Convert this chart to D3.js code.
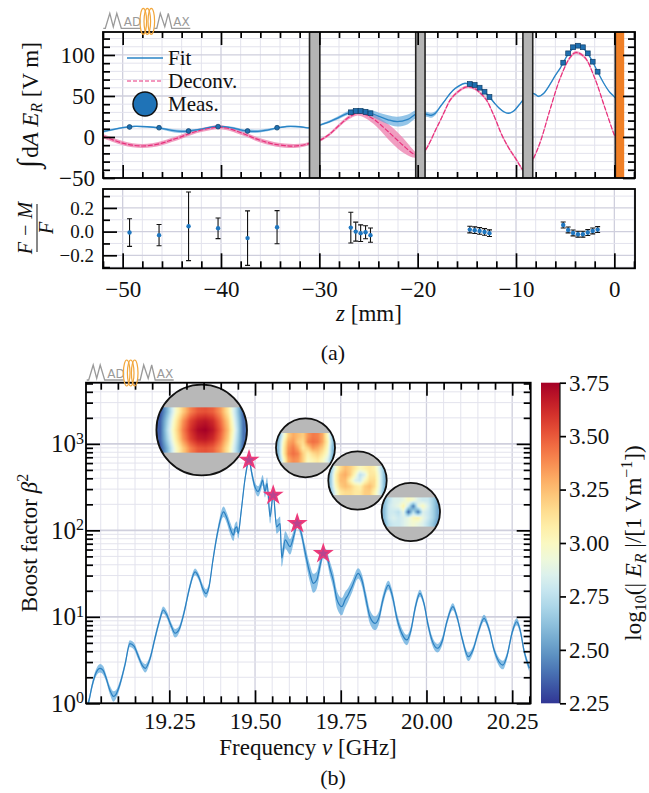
<!DOCTYPE html>
<html><head><meta charset="utf-8">
<script src="https://cdn.jsdelivr.net/npm/d3@7/dist/d3.min.js"></script>
<style>
body{margin:0;background:#fff;}
svg text{fill:#111;}
</style></head><body>
<svg id="chart" width="649" height="793" font-family="Liberation Serif, DejaVu Serif, serif"></svg>
<script>
// ================= DATA =================
const fitZ=[-52,-51,-50,-48.8,-47.5,-46.3,-45,-44,-43.3,-42,-40.8,-40.3,-39,-37.8,-37.3,-36.5,-35.3,-34.3,-33.3,-32,-31,
 -30.4,-29.9,-29,-28,-27,-26.3,-25.8,-25,-24,-23,-22.1,-21,-20.2,-19.7,
 -19.1,-18.6,-18.2,-17.7,-17.2,-16.7,-16.2,-15.7,-15.2,-14.7,-14.2,-13.7,-13.2,-12.7,-12.2,-11.7,-11.2,-10.7,-10.2,-9.7,-9.3,
 -8.8,-8.2,-7.7,-7.2,-6.5,-6,-5.5,-5.2,-4.7,-4.2,-3.7,-3.2,-2.7,-2.2,-1.7,-1,-0.5,0,0.3];
const fitV=[6.5,9,11.5,13,12.5,11,8,6.8,7.3,9.5,12.5,12.8,11.5,8,7.3,6.8,8.5,11,12.8,12.5,11,
 12,14.6,18.5,24,29.5,31.5,31.7,30,25.5,21,18.7,21.5,27.7,28,
 27.7,26.5,29,37,45,53,59,63,65.3,64.6,63.4,60.1,55.2,48.8,41.5,35,30.5,29,32,39,45,
 52,53,49.5,53,65,75,84,90.6,101,108,110.5,108.5,101.5,91.5,79.5,64,55,49,45];
const fitE=[1.5,1.2,1,1,1,1.2,1.8,2,1.8,1.2,1,1,1.2,1.8,2,2,1.5,1.2,1,1,1,
 1,1.2,1.5,2,2.5,3,3,3.5,4.5,5.5,6,6,5,4,
 3,3,2.5,1.5,1,1,1,1,1,1,1,1,1,1,1,1,1,1,1,1,1,
 1,1,1,1,1,1,1,1,1,1,1,1,1,1,1,1,1,1,1];
const decZ=[-52,-51,-50,-49,-48,-47,-46,-45,-44,-43,-42,-41,-40.3,-39.5,-38.5,-37.5,-36.5,-35.5,-34.5,-33.5,-32.5,-31.5,-30.5,
 -29.9,-29,-28,-27,-26.2,-25.5,-24.5,-23.5,-22.5,-21.5,-20.5,-20,-19.5,
 -19.1,-18.7,-18.2,-17.7,-17.2,-16.7,-16.2,-15.7,-15.2,-14.8,-14.2,-13.5,-13,-12.5,-12,-11.5,-11,-10.5,-10,-9.6,-9.2,-8.8,
 -8.2,-7.5,-6.5,-5.5,-4.5,-3.9,-3,-2,-1,0,0.3];
const decV=[1,-3.5,-7.5,-10,-11,-10,-7.5,-3.5,0.5,5,8.5,11,12,11,7.5,3,-2,-6,-9,-10.5,-11,-9.5,-6,
 -3.7,3,14,24,29,28,22,12,1,-10,-20,-22.5,-20,
 -14,-5,8,20,33,45,52,57,60.5,61.3,59,52,45,33,19,4,-8,-18,-27,-35,-41,-38,
 -25.6,-5,35,72,97,103,97,72,37,2.4,-5];
const decE=[2.5,2.5,2.5,2.5,2.5,2.5,2.5,2.5,2.5,2.5,2.5,2.5,2.5,2.5,2.5,2.5,2.5,2.5,2.5,2.5,2.5,2,2,
 1.8,1.8,2,2.5,3,4,6,8,10,9,5,2,1.8,
 1.8,1.8,1.8,1.8,1.8,1.8,1.8,1.8,1.8,1.8,1.8,1.8,1.8,1.8,1.8,1.8,1.8,1.8,1.8,1.8,1.8,1.8,
 1.8,1.8,1.8,1.8,1.8,1.8,1.8,1.8,1.8,1.8,1.8];
const measZ=[-49.3,-46.3,-43.3,-40.3,-37.3,-34.3,-26.8,-26.3,-25.8,-25.3,-24.8,-14.7,-14.2,-13.7,-13.2,-12.7,-5.2,-4.7,-4.2,-3.7,-3.2,-2.7,-2.2,-1.7];
const measV=[12.2,11.3,7.3,12.6,7.3,11.3,30.1,31.7,31.7,30.5,28.9,64.6,63.4,60.1,55.2,48.8,90.6,102,109.4,111.3,109.4,102,91.8,79.6];
const resV=[-0.008,-0.03,0.045,0.028,-0.055,0.037,0.034,0.0,-0.013,-0.005,-0.03,0.017,0.012,0.006,-0.003,-0.013,0.056,0.014,-0.011,-0.022,-0.022,-0.008,0.006,0.017];
const resE=[0.117,0.09,0.29,0.087,0.23,0.14,0.13,0.08,0.07,0.055,0.06,0.028,0.028,0.028,0.028,0.028,0.025,0.025,0.025,0.025,0.025,0.025,0.025,0.025];
const diskZ0=[-31,-20.2,-9.3];
const diskZ1=[-29.95,-19.25,-8.3];
const mirrorZ=[0.1,1.0];
const zTicks=[-50,-40,-30,-20,-10,0];
const aYTicks=[-50,0,50,100];
const rYTicks=[-0.2,0,0.2];

const freq=[
19.007,19.0137,19.0245,19.036,19.048,19.057,19.065,19.077,19.087,19.094,
19.106,19.121,19.135,19.147,19.159,19.171,19.180,19.194,19.208,19.223,
19.232,19.243,19.255,19.267,19.278,19.293,19.310,19.325,19.337,19.348,
19.357,19.366,19.377,19.392,19.408,19.418,19.427,19.437,19.442,19.447,
19.451,19.459,19.471,19.4825,19.491,19.500,19.509,19.517,19.522,19.529,
19.535,19.544,19.553,19.563,19.573,19.578,19.588,19.602,19.614,19.623,
19.634,19.646,19.660,19.670,19.680,19.690,19.699,19.707,19.719,19.728,
19.739,19.753,19.763,19.771,19.783,19.801,19.812,19.824,19.835,19.850,
19.862,19.873,19.889,19.900,19.914,19.929,19.943,19.955,19.967,19.981,
19.993,20.005,20.016,20.032,20.046,20.060,20.077,20.089,20.104,20.122,
20.136,20.151,20.168,20.183,20.197,20.223,20.235,20.250,20.263,20.273,
20.285,20.300];
const boost=[
0.89,1.0,1.58,2.24,2.54,2.40,2.0,1.41,1.20,1.26,
1.66,2.82,4.9,4.57,3.55,2.75,2.54,3.31,5.62,9.55,
12.0,10.5,7.94,6.46,7.08,11.2,22.4,33.1,28.2,20.9,
18.6,22.4,44.7,100,164,138,107,88.3,105,110,
92.3,158,398,646,447,316,282,331,380,282,
347,144,263,110,120,47.9,77.6,64.6,89.1,120,
95.5,56.2,31.8,24.4,26.6,39.8,54.2,52.5,35.5,26.6,
15.8,13.1,15.8,17.8,22.4,31.8,26.3,15.8,10,8.41,
10,15.8,23.3,17.8,9.55,6.31,5.40,7.08,12.6,18.7,
14.1,7.94,5.37,4.33,5.25,8.91,13.1,10,5.62,3.46,
4.17,6.61,9.62,7.08,4.17,2.77,3.55,6.61,8.77,7.08,
3.98,2.54];
const boostErr=[
0.04,0.04,0.04,0.04,0.05,0.05,0.04,0.05,0.06,0.05,
0.04,0.04,0.04,0.04,0.04,0.04,0.05,0.04,0.04,0.04,
0.04,0.04,0.04,0.05,0.04,0.04,0.04,0.04,0.04,0.05,
0.05,0.04,0.04,0.05,0.06,0.06,0.07,0.07,0.06,0.06,
0.06,0.05,0.04,0.04,0.05,0.05,0.06,0.06,0.06,0.07,
0.07,0.08,0.06,0.08,0.08,0.10,0.10,0.09,0.07,0.05,
0.06,0.08,0.10,0.11,0.10,0.08,0.06,0.06,0.08,0.09,
0.10,0.10,0.09,0.08,0.07,0.06,0.07,0.08,0.08,0.08,
0.07,0.06,0.05,0.06,0.06,0.06,0.06,0.05,0.05,0.04,
0.04,0.05,0.05,0.05,0.05,0.04,0.04,0.04,0.04,0.05,
0.04,0.04,0.04,0.04,0.04,0.05,0.04,0.04,0.04,0.04,
0.04,0.04];
const starF=[19.4825,19.553,19.623,19.699];
const starB=[650,255,120,54];
const fTicks=[19.25,19.5,19.75,20,20.25];
const bYTicks=[1,10,100,1000];
const cbTicks=[2.25,2.5,2.75,3,3.25,3.5,3.75];
const map1=[
[2.3,2.6,2.95,3.2,3.4,3.5,3.52,3.48,3.35,3.1,2.75,2.35],
[2.35,2.7,3.05,3.35,3.55,3.65,3.68,3.62,3.45,3.2,2.8,2.4],
[2.35,2.75,3.1,3.4,3.6,3.72,3.75,3.68,3.5,3.25,2.85,2.4],
[2.35,2.7,3.05,3.35,3.55,3.66,3.68,3.62,3.45,3.2,2.8,2.4],
[2.3,2.6,2.95,3.2,3.4,3.5,3.52,3.48,3.35,3.1,2.75,2.35]];
const map2=[
[2.55,2.9,3.2,3.3,3.25,3.2,3.35,3.42,3.4,3.3,3.0,2.6],
[2.6,3.0,3.3,3.35,3.2,3.15,3.4,3.45,3.42,3.3,3.05,2.65],
[2.6,3.05,3.35,3.42,3.3,3.1,3.2,3.35,3.3,3.2,3.0,2.6],
[2.6,3.05,3.38,3.45,3.4,3.2,3.05,3.15,3.2,3.1,2.95,2.6],
[2.55,2.95,3.3,3.38,3.35,3.2,3.0,3.05,3.1,3.0,2.85,2.55]];
const map3=[
[2.6,2.95,3.15,3.25,3.2,3.1,3.0,3.05,3.1,3.05,2.85,2.6],
[2.65,3.05,3.25,3.3,3.2,3.0,2.75,2.85,3.1,3.1,2.9,2.6],
[2.65,3.05,3.25,3.25,3.05,2.85,2.8,3.0,3.15,3.15,2.9,2.6],
[2.65,3.0,3.2,3.25,3.2,3.1,3.05,3.2,3.25,3.15,2.9,2.6],
[2.6,2.9,3.1,3.15,3.15,3.1,3.1,3.2,3.2,3.05,2.85,2.55]];
const map4=[
[2.6,2.75,2.85,2.85,2.9,3.0,2.95,2.85,2.8,2.8,2.7,2.55],
[2.6,2.8,2.85,2.9,3.05,2.8,2.4,2.9,3.0,2.85,2.7,2.55],
[2.6,2.8,2.8,2.75,2.9,2.35,2.75,2.4,2.85,2.8,2.7,2.55],
[2.6,2.8,2.85,2.8,2.85,2.9,3.0,3.05,2.9,2.8,2.7,2.55],
[2.55,2.75,2.8,2.8,2.85,2.9,2.95,2.9,2.85,2.75,2.65,2.5]];

// ================= LAYOUT =================
const FONT='"Liberation Serif","DejaVu Serif",serif';
const svg=d3.select('#chart');
svg.append('rect').attr('width',649).attr('height',793).attr('fill','#fff');
const defs=svg.append('defs');
const PA={l:103,r:635,t:32,b:178};
const PR={l:103,r:635,t:189,b:268.3};
const PB={l:86,r:530.7,t:382.7,b:703.3};
const CB={l:541,r:560};
const BLUE='#2a84c6', BLUEBAND='#5aa6dc', PINK='#e8307c', PINKBAND='#ee86b2';
const GMIN='#e3e3ed', GMAJ='#cfcfdd';

const xz=d3.scaleLinear().domain([-52,2.1]).range([PA.l,PA.r]);
const yA=d3.scaleLinear().domain([-50,128]).range([PA.b,PA.t]);
const yR=d3.scaleLinear().domain([-0.31,0.36]).range([PR.b,PR.t]);
const xf=d3.scaleLinear().domain([19.007,20.304]).range([PB.l,PB.r]);
const yB=d3.scaleLog().domain([1,5100]).range([PB.b,PB.t]);
const yC=d3.scaleLinear().domain([2.25,3.75]).range([PB.b,PB.t]);
const cmap=v=>d3.interpolateRdYlBu(1-(v-2.25)/1.5);

function txt(sel){return sel.style('font-family',FONT);}
function clip(id,P){defs.append('clipPath').attr('id',id).append('rect').attr('x',P.l).attr('y',P.t).attr('width',P.r-P.l).attr('height',P.b-P.t);}
clip('cA',PA);clip('cR',PR);clip('cB',PB);

function vgrid(g,sc,vals,P,col,w){g.append('g').selectAll('line').data(vals).join('line')
  .attr('x1',d=>sc(d)).attr('x2',d=>sc(d)).attr('y1',P.t).attr('y2',P.b).attr('stroke',col).attr('stroke-width',w);}
function hgrid(g,sc,vals,P,col,w){g.append('g').selectAll('line').data(vals).join('line')
  .attr('y1',d=>sc(d)).attr('y2',d=>sc(d)).attr('x1',P.l).attr('x2',P.r).attr('stroke',col).attr('stroke-width',w);}
function axis(gen,tx,ty,fs){
  const a=svg.append('g').attr('transform',`translate(${tx},${ty})`).call(gen);
  a.attr('font-family',null);
  a.select('.domain').remove();
  a.selectAll('.tick line').attr('stroke','#000').attr('stroke-width',1.7);
  a.selectAll('.tick text').attr('fill','#111').style('font-family',FONT);
  if(fs) a.selectAll('.tick text').style('font-size',fs+'px');
  return a;
}
function frame(P){svg.append('rect').attr('x',P.l).attr('y',P.t).attr('width',P.r-P.l).attr('height',P.b-P.t)
  .attr('fill','none').attr('stroke','#000').attr('stroke-width',1.8);}

// ================= PANEL (a) =================
const zMinor=d3.range(-52,3,2).filter(v=>v%10!==0);
const aMinor=d3.range(-50,130,10).filter(v=>v%50!==0);
const gA=svg.append('g');
vgrid(gA,xz,zMinor,PA,GMIN,1);
vgrid(gA,xz,zTicks,PA,GMAJ,1.3);
hgrid(gA,yA,aMinor,PA,GMIN,1);
hgrid(gA,yA,aYTicks,PA,GMAJ,1.3);

const fitD=fitZ.map((z,i)=>({z,v:fitV[i],e:fitE[i]}));
const decD=decZ.map((z,i)=>({z,v:decV[i],e:decE[i]}));
const cur=d3.curveCatmullRom.alpha(0.5);
const areaA=d3.area().x(d=>xz(d.z)).y0(d=>yA(d.v-d.e)).y1(d=>yA(d.v+d.e)).curve(cur);
const lineA=d3.line().x(d=>xz(d.z)).y(d=>yA(d.v)).curve(cur);
const gAc=svg.append('g').attr('clip-path','url(#cA)');
gAc.append('path').attr('d',areaA(decD)).attr('fill',PINKBAND).attr('opacity',0.8);
gAc.append('path').attr('d',areaA(fitD)).attr('fill',BLUEBAND).attr('opacity',0.65);
gAc.append('path').attr('d',lineA(fitD)).attr('fill','none').attr('stroke',BLUE).attr('stroke-width',1.3);
gAc.append('path').attr('d',lineA(decD)).attr('fill','none').attr('stroke',PINK).attr('stroke-width',1.2).attr('stroke-dasharray','5,1.6');
const measD=measZ.map((z,i)=>({z,v:measV[i],i}));
gAc.selectAll('circle.m').data(measD.filter(d=>d.i<6)).join('circle').attr('class','m')
  .attr('cx',d=>xz(d.z)).attr('cy',d=>yA(d.v)).attr('r',2.4)
  .attr('fill','#1f6fb0').attr('stroke','#0f3d66').attr('stroke-width',0.7);
gAc.selectAll('rect.m').data(measD.filter(d=>d.i>=6)).join('rect').attr('class','m')
  .attr('x',d=>xz(d.z)-2.4).attr('y',d=>yA(d.v)-2.4).attr('width',4.8).attr('height',4.8)
  .attr('fill','#1f6fb0').attr('stroke','#0f3d66').attr('stroke-width',0.7);
diskZ0.forEach((z0,i)=>{
  const x0=xz(z0),x1=xz(diskZ1[i]);
  gAc.append('rect').attr('x',x0).attr('y',PA.t).attr('width',x1-x0).attr('height',PA.b-PA.t).attr('fill','#b4b4b4');
  [x0,x1].forEach(x=>gAc.append('line').attr('x1',x).attr('x2',x).attr('y1',PA.t).attr('y2',PA.b).attr('stroke','#222').attr('stroke-width',1.6));
});
{
  const x0=xz(mirrorZ[0]),x1=xz(mirrorZ[1]);
  gAc.append('rect').attr('x',x0).attr('y',PA.t).attr('width',x1-x0).attr('height',PA.b-PA.t).attr('fill','#ef7f26');
  gAc.append('line').attr('x1',x0).attr('x2',x0).attr('y1',PA.t).attr('y2',PA.b).attr('stroke','#222').attr('stroke-width',1.6);
}
axis(d3.axisBottom(xz).tickValues(zTicks).tickSize(-13).tickFormat(''),0,PA.b);
axis(d3.axisBottom(xz).tickValues(zMinor).tickSize(-6).tickFormat(''),0,PA.b);
axis(d3.axisTop(xz).tickValues(zTicks).tickSize(-13).tickFormat(''),0,PA.t);
axis(d3.axisTop(xz).tickValues(zMinor).tickSize(-6).tickFormat(''),0,PA.t);
axis(d3.axisLeft(yA).tickValues(aYTicks).tickSize(-12).tickPadding(8).tickFormat(d3.format('d')),PA.l,0,23);
axis(d3.axisLeft(yA).tickValues(aMinor).tickSize(-7).tickFormat(''),PA.l,0);
axis(d3.axisRight(yA).tickValues(aYTicks).tickSize(-12).tickFormat(''),PA.r,0);
axis(d3.axisRight(yA).tickValues(aMinor).tickSize(-7).tickFormat(''),PA.r,0);
frame(PA);

{
  const lg=svg.append('g');
  lg.append('line').attr('x1',127).attr('x2',163).attr('y1',58).attr('y2',58).attr('stroke',BLUE).attr('stroke-width',1.3);
  lg.append('line').attr('x1',127).attr('x2',163).attr('y1',81).attr('y2',81).attr('stroke',PINK).attr('stroke-width',1.2).attr('stroke-dasharray','4,2');
  lg.append('circle').attr('cx',145).attr('cy',104).attr('r',12).attr('fill','#1f73b7').attr('stroke','#111').attr('stroke-width',1.5);
  [['Fit',65],['Deconv.',88],['Meas.',111]].forEach(([t,y])=>txt(lg.append('text')).attr('x',168).attr('y',y).style('font-size','21px').text(t));
}
{
  const t=txt(svg.append('text')).attr('transform','translate(38,105) rotate(-90)').attr('text-anchor','middle').style('font-size','23px');
  t.append('tspan').text('∫').style('font-size','30px').style('font-style','italic');
  t.append('tspan').text('d').attr('dx',2);
  t.append('tspan').text('A').style('font-style','italic');
  t.append('tspan').text(' E').style('font-style','italic');
  t.append('tspan').text('R').style('font-style','italic').style('font-size','16px').attr('dy',4);
  t.append('tspan').text(' [V m]').attr('dy',-4);
}

// ================= RESIDUALS =================
const rMinor=[-0.3,-0.1,0.1,0.3];
const gR=svg.append('g');
vgrid(gR,xz,zMinor,PR,GMIN,1);
vgrid(gR,xz,zTicks,PR,GMAJ,1.3);
hgrid(gR,yR,rMinor,PR,GMIN,1);
hgrid(gR,yR,rYTicks,PR,GMAJ,1.3);
const gRc=svg.append('g').attr('clip-path','url(#cR)');
measZ.forEach((z,i)=>{
  const x=xz(z),y0=yR(resV[i]-resE[i]),y1=yR(resV[i]+resE[i]);
  gRc.append('line').attr('x1',x).attr('x2',x).attr('y1',y0).attr('y2',y1).attr('stroke','#111').attr('stroke-width',1.1);
  [y0,y1].forEach(y=>gRc.append('line').attr('x1',x-2.5).attr('x2',x+2.5).attr('y1',y).attr('y2',y).attr('stroke','#111').attr('stroke-width',1.1));
});
gRc.selectAll('circle').data(measZ).join('circle').attr('cx',d=>xz(d)).attr('cy',(d,i)=>yR(resV[i])).attr('r',2.2).attr('fill','#1f77c0');
axis(d3.axisBottom(xz).tickValues(zTicks).tickSize(-15).tickPadding(12).tickFormat(d3.format('d')),0,PR.b,23);
axis(d3.axisBottom(xz).tickValues(zMinor).tickSize(-7).tickFormat(''),0,PR.b);
axis(d3.axisLeft(yR).tickValues(rYTicks).tickSize(-14).tickPadding(9).tickFormat(d3.format('.1f')),PR.l,0,19);
axis(d3.axisLeft(yR).tickValues(rMinor).tickSize(-7).tickFormat(''),PR.l,0);
frame(PR);
{
  const g=svg.append('g').attr('transform','translate(37,228) rotate(-90)');
  txt(g.append('text')).attr('x',0).attr('y',-5).attr('text-anchor','middle').style('font-style','italic').style('font-size','20px').text('F − M');
  g.append('line').attr('x1',-24).attr('x2',24).attr('y1',0).attr('y2',0).attr('stroke','#111').attr('stroke-width',1);
  txt(g.append('text')).attr('x',0).attr('y',16).attr('text-anchor','middle').style('font-style','italic').style('font-size','20px').text('F');
}
{
  const t=txt(svg.append('text')).attr('x',369).attr('y',321).attr('text-anchor','middle').style('font-size','23px');
  t.append('tspan').text('z').style('font-style','italic');
  t.append('tspan').text(' [mm]');
}
txt(svg.append('text')).attr('x',333).attr('y',360).attr('text-anchor','middle').style('font-size','22px').text('(a)');

// ================= PANEL (b) =================
const fMinor=d3.range(381,407).map(i=>+(i*0.05).toFixed(2)).filter(v=>Math.abs(v*4-Math.round(v*4))>1e-6);
const bMinor=[];
[1,10,100,1000].forEach(k=>{for(let m=2;m<=9;m++){if(m*k<=5100)bMinor.push(m*k);}});
const gB=svg.append('g');
vgrid(gB,xf,fMinor,PB,GMIN,1);
vgrid(gB,xf,fTicks,PB,GMAJ,1.3);
hgrid(gB,yB,bMinor,PB,GMIN,1);
hgrid(gB,yB,bYTicks,PB,GMAJ,1.6);

const bD=freq.map((f,i)=>({f,b:boost[i],e:boostErr[i]}));
const curB=d3.curveMonotoneX;
const gBc=svg.append('g').attr('clip-path','url(#cB)');
gBc.append('path').attr('d',d3.area().x(d=>xf(d.f)).y0(d=>yB(d.b/Math.pow(10,d.e))).y1(d=>yB(d.b*Math.pow(10,d.e))).curve(curB)(bD))
  .attr('fill',BLUEBAND).attr('opacity',0.7);
gBc.append('path').attr('d',d3.line().x(d=>xf(d.f)).y(d=>yB(d.b)).curve(curB)(bD))
  .attr('fill','none').attr('stroke','#2a7fc0').attr('stroke-width',1.2);

// field-map insets: grid upsampled bilinearly into a canvas image
function heat(grid){
  const rows=grid.length,cols=grid[0].length,W=120,H=60;
  const cv=document.createElement('canvas');cv.width=W;cv.height=H;
  const ctx=cv.getContext('2d');const img=ctx.createImageData(W,H);
  for(let y=0;y<H;y++){
    let gy=Math.min(Math.max((y+0.5)/H*rows-0.5,0),rows-1);const j0=Math.floor(gy),j1=Math.min(j0+1,rows-1),fy=gy-j0;
    for(let x=0;x<W;x++){
      let gx=Math.min(Math.max((x+0.5)/W*cols-0.5,0),cols-1);const i0=Math.floor(gx),i1=Math.min(i0+1,cols-1),fx=gx-i0;
      const v=(grid[j0][i0]*(1-fx)+grid[j0][i1]*fx)*(1-fy)+(grid[j1][i0]*(1-fx)+grid[j1][i1]*fx)*fy;
      const c=d3.rgb(cmap(v));const k=(y*W+x)*4;
      img.data[k]=c.r;img.data[k+1]=c.g;img.data[k+2]=c.b;img.data[k+3]=255;
    }
  }
  ctx.putImageData(img,0,0);
  return cv.toDataURL();
}
const insets=[[map1,201.7,430,45.3],[map2,305.5,447.8,29.5],[map3,357.5,480.5,29.2],[map4,410.8,512,29.2]];
insets.forEach(([m,cx,cy,r],k)=>{
  defs.append('clipPath').attr('id','ci'+k).append('circle').attr('cx',cx).attr('cy',cy).attr('r',r);
  const g=svg.append('g');
  const gi=g.append('g').attr('clip-path',`url(#ci${k})`);
  gi.append('rect').attr('x',cx-r).attr('y',cy-r).attr('width',2*r).attr('height',2*r).attr('fill','#b8b8b8');
  gi.append('image').attr('href',heat(m)).attr('x',cx-r).attr('y',cy-r*0.5).attr('width',2*r).attr('height',r)
    .attr('preserveAspectRatio','none');
  g.append('circle').attr('cx',cx).attr('cy',cy).attr('r',r).attr('fill','none').attr('stroke','#111').attr('stroke-width',1.8);
});
svg.append('g').selectAll('path').data(starF).join('path')
  .attr('transform',(d,i)=>`translate(${xf(d)},${yB(starB[i])})`)
  .attr('d',d3.symbol(d3.symbolStar,80)())
  .attr('fill','#b8448e').attr('stroke','#ee3a7a').attr('stroke-width',1.6);

axis(d3.axisBottom(xf).tickValues(fTicks).tickSize(-13).tickPadding(9).tickFormat(d3.format('.2f')),0,PB.b,23);
axis(d3.axisBottom(xf).tickValues(fMinor).tickSize(-7).tickFormat(''),0,PB.b);
axis(d3.axisTop(xf).tickValues(fTicks).tickSize(-13).tickFormat(''),0,PB.t);
axis(d3.axisTop(xf).tickValues(fMinor).tickSize(-7).tickFormat(''),0,PB.t);
{
  const a=axis(d3.axisLeft(yB).tickValues(bYTicks).tickSize(-14).tickPadding(2),PB.l,0,25);
  a.selectAll('.tick text').each(function(d){
    const t=d3.select(this);t.text('');
    t.append('tspan').text('10');
    t.append('tspan').text(Math.round(Math.log10(d))).attr('dy','-0.55em').style('font-size','16px');
  });
}
axis(d3.axisLeft(yB).tickValues(bMinor).tickSize(-7).tickFormat(''),PB.l,0);
axis(d3.axisRight(yB).tickValues(bYTicks).tickSize(-14).tickFormat(''),PB.r,0);
axis(d3.axisRight(yB).tickValues(bMinor).tickSize(-7).tickFormat(''),PB.r,0);
frame(PB);

{
  const t=txt(svg.append('text')).attr('transform',`translate(37,${(PB.t+PB.b)/2}) rotate(-90)`).attr('text-anchor','middle').style('font-size','23px');
  t.append('tspan').text('Boost factor ');
  t.append('tspan').text('β').style('font-style','italic');
  t.append('tspan').text('2').attr('dy',-9).style('font-size','16px');
}
{
  const t=txt(svg.append('text')).attr('x',308).attr('y',755).attr('text-anchor','middle').style('font-size','23px');
  t.append('tspan').text('Frequency ');
  t.append('tspan').text('ν').style('font-style','italic');
  t.append('tspan').text(' [GHz]');
}
txt(svg.append('text')).attr('x',333).attr('y',785).attr('text-anchor','middle').style('font-size','22px').text('(b)');

{
  const gr=defs.append('linearGradient').attr('id','cbg').attr('x1',0).attr('y1',1).attr('x2',0).attr('y2',0);
  d3.range(0,1.0001,0.05).forEach(t=>gr.append('stop').attr('offset',t).attr('stop-color',cmap(2.25+1.5*t)));
  svg.append('rect').attr('x',CB.l).attr('y',PB.t).attr('width',CB.r-CB.l).attr('height',PB.b-PB.t).attr('fill','url(#cbg)');
  axis(d3.axisRight(yC).tickValues(cbTicks).tickSize(6).tickPadding(3).tickFormat(d3.format('.2f')),CB.r,0,23);
  svg.append('line').attr('x1',CB.r).attr('x2',CB.r).attr('y1',PB.t).attr('y2',PB.b).attr('stroke','#111').attr('stroke-width',1.2);
  const t=txt(svg.append('text')).attr('transform',`translate(641,${(PB.t+PB.b)/2}) rotate(-90)`).attr('text-anchor','middle').style('font-size','23px');
  t.append('tspan').text('log');
  t.append('tspan').text('10').style('font-size','16px').attr('dy',5);
  t.append('tspan').text('(| ').attr('dy',-5);
  t.append('tspan').text('E').style('font-style','italic');
  t.append('tspan').text('R').style('font-style','italic').style('font-size','16px').attr('dy',5);
  t.append('tspan').text(' |/[1 Vm').attr('dy',-5);
  t.append('tspan').text('−1').style('font-size','16px').attr('dy',-9);
  t.append('tspan').text('])').attr('dy',9);
}

function logo(x0,y0){
  const g=svg.append('g').attr('transform',`translate(${x0},${y0})`);
  const gray='#9a9a9a', orange='#f2a63a';
  g.append('polyline').attr('points','0,0 2,0 6.5,-15 10,-1.5 13.5,-15 18,0 37,0').attr('fill','none').attr('stroke',gray).attr('stroke-width',1.3);
  g.append('text').attr('x',20.5).attr('y',-2).text('AD').style('font-family','"DejaVu Sans",sans-serif').style('font-size','12px').style('fill',gray);
  [40,44,48].forEach(cx=>g.append('ellipse').attr('cx',cx).attr('cy',-7).attr('rx',3.3).attr('ry',13).attr('fill','none').attr('stroke',orange).attr('stroke-width',1.2));
  g.append('polyline').attr('points','51,0 53.5,0 57,-15 61.5,-1.5 65,-15 68.5,0 87,0').attr('fill','none').attr('stroke',gray).attr('stroke-width',1.3);
  g.append('text').attr('x',70).attr('y',-2).text('AX').style('font-family','"DejaVu Sans",sans-serif').style('font-size','12px').style('fill',gray);
}
logo(103.3,28.3);
logo(86.7,380);
</script></body></html>
